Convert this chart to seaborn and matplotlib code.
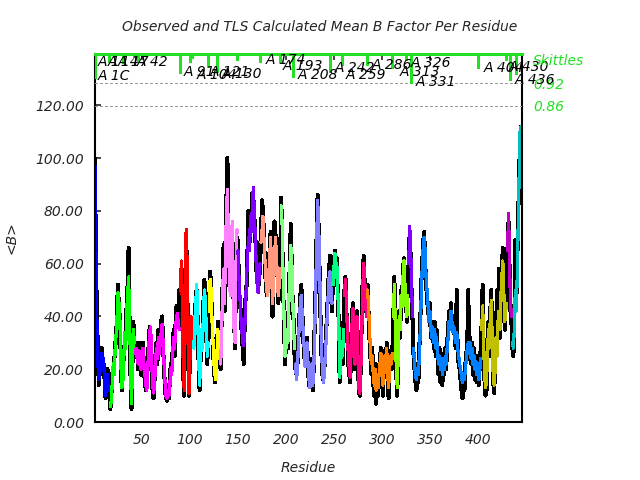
import numpy as np
import pandas as pd
import matplotlib
matplotlib.use("Agg")
import matplotlib.pyplot as plt
from matplotlib.ticker import FormatStrFormatter
import seaborn as sns

# ---------------- data ----------------
residues = list(range(1, 446))

obs_b = [
    100, 57, 44, 25, 14, 20, 20, 28, 18, 22,
    16, 9, 15, 20, 12, 14, 5, 10, 18, 20,
    22, 30, 30, 44, 52, 42, 40, 20, 12, 18,
    26, 30, 32, 45, 52, 66, 38, 18, 5, 22,
    38, 28, 30, 25, 26, 20, 30, 22, 18, 28,
    30, 20, 15, 12, 14, 22, 30, 36, 32, 22,
    12, 9, 16, 25, 30, 22, 35, 28, 27, 38,
    40, 28, 20, 12, 9, 8, 14, 9, 16, 22,
    20, 28, 35, 25, 38, 44, 38, 40, 50, 45,
    58, 40, 18, 10, 52, 70, 55, 28, 10, 28,
    38, 32, 33, 30, 35, 48, 50, 38, 22, 12,
    24, 32, 30, 45, 54, 44, 38, 22, 32, 45,
    57, 52, 35, 28, 20, 15, 18, 22, 38, 25,
    26, 20, 40, 52, 67, 42, 68, 85, 100, 65,
    52, 50, 65, 74, 52, 38, 28, 62, 70, 68,
    52, 45, 42, 32, 28, 22, 38, 48, 52, 66,
    80, 68, 75, 76, 87, 85, 78, 72, 58, 55,
    68, 52, 62, 70, 84, 80, 72, 60, 52, 48,
    50, 58, 65, 72, 60, 40, 55, 76, 72, 62,
    58, 45, 50, 62, 85, 72, 52, 38, 22, 30,
    38, 28, 48, 60, 75, 60, 45, 38, 25, 20,
    18, 22, 32, 40, 48, 52, 42, 32, 25, 23,
    26, 32, 20, 14, 15, 20, 24, 12, 22, 38,
    52, 72, 86, 74, 58, 40, 26, 18, 16, 20,
    28, 35, 42, 52, 58, 63, 52, 42, 55, 60,
    65, 52, 62, 48, 38, 15, 25, 32, 22, 38,
    50, 55, 42, 32, 22, 18, 15, 30, 42, 45,
    28, 20, 38, 42, 22, 12, 10, 22, 38, 55,
    63, 52, 42, 42, 52, 42, 32, 25, 18, 28,
    15, 10, 22, 7, 14, 10, 20, 24, 28, 18,
    10, 20, 27, 20, 30, 15, 9, 22, 27, 20,
    28, 42, 55, 32, 18, 10, 28, 42, 32, 50,
    46, 58, 62, 50, 48, 38, 52, 62, 72, 62,
    48, 38, 25, 20, 15, 12, 22, 15, 28, 38,
    52, 60, 68, 72, 62, 52, 48, 42, 40, 45,
    32, 35, 38, 28, 38, 25, 35, 24, 18, 28,
    15, 26, 14, 24, 18, 28, 20, 30, 35, 42,
    38, 45, 35, 38, 40, 30, 28, 50, 25, 22,
    20, 16, 12, 9, 15, 12, 22, 26, 30, 50,
    24, 32, 22, 30, 18, 28, 16, 25, 15, 20,
    14, 22, 28, 38, 52, 28, 15, 10, 12, 28,
    38, 25, 42, 50, 28, 15, 11, 22, 35, 50,
    40, 58, 32, 50, 57, 66, 48, 35, 45, 44,
    68, 76, 58, 42, 38, 28, 25, 38, 69, 45,
    60, 78, 94, 107, 112,
]

calc_b = [
    97, 62, 38, 22, 16, 18, 22, 26, 20, 24,
    14, 10, 13, 18, 14, 12, 6, 8, 15, 22,
    18, 28, 33, 40, 49, 45, 38, 22, 13, 15,
    24, 34, 28, 42, 48, 55, 40, 22, 7, 20,
    35, 30, 26, 28, 24, 22, 27, 24, 20, 26,
    28, 22, 18, 14, 12, 20, 28, 34, 36, 24,
    15, 11, 14, 22, 28, 24, 32, 26, 30, 34,
    37, 30, 22, 15, 10, 9, 12, 10, 14, 20,
    18, 26, 32, 28, 36, 40, 41, 36, 35, 50,
    61, 45, 20, 12, 50, 73, 60, 30, 11, 25,
    40, 30, 35, 28, 38, 45, 52, 40, 25, 14,
    22, 35, 28, 42, 50, 46, 35, 25, 30, 42,
    54, 50, 38, 30, 22, 18, 16, 25, 35, 28,
    24, 22, 35, 50, 58, 45, 65, 80, 88, 70,
    55, 48, 62, 76, 55, 35, 30, 60, 73, 65,
    55, 48, 40, 35, 30, 29, 35, 45, 55, 62,
    70, 65, 78, 72, 82, 89, 80, 70, 60, 52,
    49, 55, 60, 68, 72, 78, 70, 62, 55, 50,
    48, 55, 62, 70, 58, 45, 52, 60, 70, 64,
    55, 48, 52, 58, 82, 75, 55, 40, 25, 28,
    35, 30, 45, 58, 67, 62, 48, 35, 28, 22,
    16, 20, 30, 38, 45, 48, 40, 34, 28, 21,
    24, 30, 22, 16, 13, 18, 22, 14, 20, 35,
    50, 68, 84, 76, 60, 42, 28, 20, 15, 18,
    25, 32, 40, 48, 55, 57, 50, 45, 52, 58,
    64, 55, 60, 50, 40, 17, 22, 30, 25, 35,
    48, 54, 45, 35, 25, 20, 17, 28, 38, 43,
    30, 22, 35, 40, 25, 13, 11, 20, 35, 50,
    60, 55, 45, 40, 50, 45, 35, 28, 22, 25,
    18, 14, 20, 12, 16, 13, 18, 22, 26, 20,
    14, 18, 25, 22, 28, 18, 13, 20, 25, 22,
    26, 40, 52, 35, 20, 13, 25, 40, 35, 48,
    44, 55, 61, 52, 45, 40, 48, 60, 74, 65,
    50, 40, 28, 22, 18, 16, 20, 18, 25, 35,
    48, 58, 66, 70, 65, 55, 50, 45, 38, 42,
    35, 32, 36, 30, 35, 28, 32, 26, 22, 25,
    20, 24, 18, 22, 20, 25, 22, 28, 32, 38,
    35, 42, 38, 34, 36, 32, 30, 34, 28, 25,
    22, 20, 17, 15, 18, 16, 20, 24, 28, 30,
    26, 30, 24, 28, 22, 25, 20, 23, 18, 22,
    16, 20, 24, 35, 44, 30, 18, 13, 15, 25,
    35, 28, 40, 46, 30, 18, 14, 20, 32, 25,
    38, 42, 35, 48, 55, 61, 50, 38, 42, 45,
    65, 79, 60, 45, 40, 30, 28, 35, 50, 42,
    55, 74, 93, 110, 112,
]

seg_starts = [1, 17, 43, 90, 104, 120, 132, 150, 174, 195,
              210, 249, 261, 285, 312, 328, 333, 404, 431, 436]
seg_colors = ["#0000ff", "#00ff00", "#ff00ff", "#ff0000", "#00ffff",
              "#ffff00", "#ff80ff", "#8000ff", "#ff9980", "#80ff80",
              "#8080ff", "#00ff80", "#ff0080", "#ff8000", "#80ff00",
              "#8000ff", "#0080ff", "#c0c000", "#c000c0", "#00c0c0"]

skittle_res = [1, 16, 30, 46, 90, 100, 102, 119, 128, 149, 173, 194, 207,
               246, 258, 284, 311, 325, 330, 400, 429, 434, 440]
skittle_val = [0.935, 0.978, 0.976, 0.978, 0.948, 0.978, 0.989, 0.965, 0.951,
               0.984, 0.978, 0.978, 0.9375, 0.951, 0.970, 0.970, 0.962, 0.984,
               0.921, 0.962, 0.984, 0.929, 0.946]

seg_labels = ["A 1", "A 1C", "A 14", "A 17", "A 42", "A 91", "A 104", "A 121",
              "A 130", "A 174", "A 193", "A 208", "A 242", "A 259", "A 286",
              "A 313", "A 326", "A 331", "A 404", "A 430", "A 436"]
label_res = [4.2, 4.2, 14.6, 25, 44.8, 93.8, 107.3, 120.8, 133.3, 179, 197,
             212.5, 251, 262.5, 289.6, 318.8, 330, 335, 406, 432, 438.5]
label_val = [0.978, 0.940, 0.978, 0.978, 0.978, 0.951, 0.943, 0.951, 0.946,
             0.984, 0.967, 0.943, 0.962, 0.943, 0.970, 0.951, 0.976, 0.924,
             0.962, 0.965, 0.929]

y_ticks = [0, 20, 40, 60, 80, 100, 120]
x_ticks = [50, 100, 150, 200, 250, 300, 350, 400]
skittle_ticks = [0.86, 0.92]

title = "Observed and TLS Calculated Mean B Factor Per Residue"
green = "#22e022"

# ---------------- plot ----------------
sns.set_style("white")
plt.rcParams["font.family"] = ["DejaVu Sans"]
plt.rcParams["font.style"] = "italic"
plt.rcParams["lines.antialiased"] = False

fig = plt.figure(figsize=(6.4, 4.8), dpi=100)
ax = fig.add_axes([95 / 640, 1 - 422 / 480, 427 / 640, 368 / 480])

seg_id = np.searchsorted(seg_starts, residues, side="right") - 1
df = pd.DataFrame({"res": residues, "obs": obs_b, "calc": calc_b,
                   "seg": ["s%02d" % i for i in seg_id]})

sns.lineplot(data=df, x="res", y="obs", color="black", linewidth=2.2,
             ax=ax, estimator=None, sort=False)
sns.lineplot(data=df, x="res", y="calc", hue="seg", palette=seg_colors,
             linewidth=1.6, ax=ax, legend=False, estimator=None, sort=False)

ax.set_xlim(1, 446)
ax.set_ylim(0, 139.5)
ax.set_yticks(y_ticks)
ax.set_xticks(x_ticks)
ax.yaxis.set_major_formatter(FormatStrFormatter("%.2f"))
ax.tick_params(direction="in", length=4, width=1.2, labelsize=10,
               top=True, right=True, pad=8)
ax.set_xlabel("Residue", fontsize=10, labelpad=10)
ax.set_ylabel("<B>", fontsize=10, labelpad=12)
for side in ["left", "bottom", "right"]:
    ax.spines[side].set_color("black")
    ax.spines[side].set_linewidth(1.5)

ax2 = ax.twinx()
ax2.set_ylim(0, 1)
ax2.set_yticks(skittle_ticks)
ax2.set_yticklabels(["%.2f" % v for v in skittle_ticks])
ax2.tick_params(axis="y", length=0, pad=8, labelsize=10, labelcolor=green)
for v in skittle_ticks:
    ax2.axhline(v, color="#999999", lw=1, ls=(0, (2, 2)))
ax2.vlines(skittle_res, skittle_val, 1.0, color=green, lw=2)
for side in ["left", "bottom", "right"]:
    ax2.spines[side].set_visible(False)
ax2.spines["top"].set_color(green)
ax2.spines["top"].set_linewidth(2)
ax.spines["top"].set_color(green)
ax.spines["top"].set_linewidth(2)

for txt, r, v in zip(seg_labels, label_res, label_val):
    ax2.text(r, v, txt, fontsize=10, ha="left", va="center", color="black",
             clip_on=False)
ax2.text(1.026, 0.981, "Skittles", transform=ax2.transAxes, fontsize=10,
         color=green, ha="left", va="center")

fig.text(0.5, 1 - 27 / 480, title, ha="center", va="center", fontsize=10)

fig.savefig("out.png", dpi=100)
